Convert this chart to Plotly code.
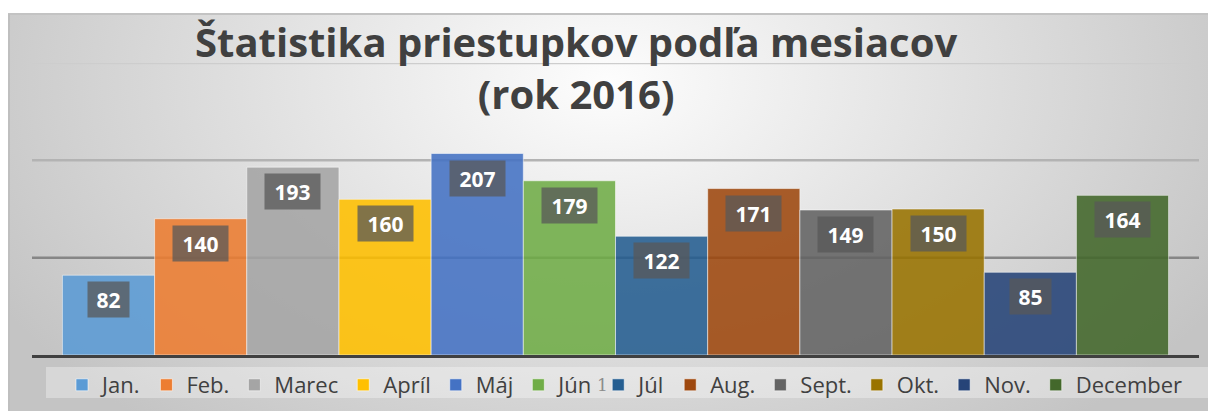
import base64
import plotly.graph_objects as go

# ---------------- data ----------------
months = ["Jan.", "Feb.", "Marec", "Apríl", "Máj", "Jún", "Júl",
          "Aug.", "Sept.", "Okt.", "Nov.", "December"]
values = [82, 140, 193, 160, 207, 179, 122, 171, 149, 150, 85, 164]
colors = ["#5B9BD5", "#ED7D31", "#A5A5A5", "#FFC000", "#4472C4", "#70AD47",
          "#255E91", "#9E480E", "#636363", "#997300", "#264478", "#43682B"]
grid_values = [100, 200, 300]
grid_colors = ["#868686", "#b3b3b3", "#cdcdcd"]
title_text = "Štatistika priestupkov podľa mesiacov<br>(rok 2016)"

# ---------------- geometry (pixels) ----------------
W, H = 1208, 411
L, R, T, B = 32, 9, 63, 56
PW, PH = W - L - R, H - T - B


def px(x):
    return (x - L) / PW


def py(y):
    return (H - B - y) / PH


FONT = "Open Sans"
TXT = "#404040"

fig = go.Figure()
for m, v, c in zip(months, values, colors):
    fig.add_trace(go.Bar(
        x=[m], y=[v], name=m, width=1.0,
        marker=dict(color=c, opacity=0.88,
                    line=dict(color="rgba(255,255,255,0.55)", width=1)),
        hoverinfo="x+y",
    ))

# data labels (dark boxes)
for m, v in zip(months, values):
    s = str(v)
    fig.add_annotation(
        x=m, y=v, xref="x", yref="y", text="<b>%s</b>" % s,
        showarrow=False, xanchor="center", yanchor="top", yshift=-6,
        width=55 if len(s) >= 3 else 41, height=35,
        bgcolor="rgba(88,88,88,0.75)", borderpad=0,
        font=dict(family=FONT, size=21, color="white"),
    )

# title
fig.add_annotation(x=px(576), y=py(12), xref="paper", yref="paper",
                   text="<b>%s</b>" % title_text, showarrow=False,
                   xanchor="center", yanchor="top", align="center",
                   font=dict(family=FONT, size=40, color=TXT))

# gridlines
for g, gc in zip(grid_values, grid_colors):
    fig.add_shape(type="line", xref="paper", yref="y", x0=0, x1=1, y0=g, y1=g,
                  line=dict(color=gc, width=2.5), layer="below")

# legend band
fig.add_shape(type="rect", xref="paper", yref="paper",
              x0=px(46), x1=px(1208), y0=py(398), y1=py(367),
              fillcolor="rgba(255,255,255,0.33)", line=dict(width=0), layer="below")

# chart-area border
fig.add_shape(type="line", xref="paper", yref="paper",
              x0=px(8), x1=px(1208), y0=py(14), y1=py(14),
              line=dict(color="#c3c3c3", width=2), layer="below")
fig.add_shape(type="line", xref="paper", yref="paper",
              x0=px(9), x1=px(9), y0=py(14), y1=py(411),
              line=dict(color="#bfbfbf", width=2), layer="below")

# stray "1" in legend row
fig.add_annotation(x=px(602), y=py(385), xref="paper", yref="paper",
                   text="1", showarrow=False, xanchor="center", yanchor="middle",
                   font=dict(family="DejaVu Serif", size=17, color="#8c8c8c"))

# background gradient image
svg = ('<svg xmlns="http://www.w3.org/2000/svg" width="1200" height="398" '
       'viewBox="0 0 1200 398" preserveAspectRatio="none">'
       '<defs><radialGradient id="g" gradientUnits="userSpaceOnUse" cx="600" cy="70" r="700" '
       'gradientTransform="translate(600 70) scale(1 0.643) translate(-600 -70)">'
       '<stop offset="0" stop-color="#fdfdfd"/><stop offset="1" stop-color="#c4c4c4"/>'
       '</radialGradient></defs><rect x="0" y="0" width="1200" height="398" fill="url(#g)"/></svg>')
src = "data:image/svg+xml;base64," + base64.b64encode(svg.encode()).decode()
fig.add_layout_image(source=src, xref="paper", yref="paper",
                     x=px(8), y=py(13), sizex=1200 / PW, sizey=398 / PH,
                     xanchor="left", yanchor="top", sizing="stretch", layer="below")

fig.update_layout(
    width=W, height=H,
    margin=dict(l=L, r=R, t=T, b=B, autoexpand=False),
    paper_bgcolor="white", plot_bgcolor="rgba(0,0,0,0)",
    barmode="overlay",
    showlegend=True,
    legend=dict(orientation="h", x=px(62), xanchor="left", y=py(385), yanchor="middle",
                font=dict(family=FONT, size=22, color=TXT),
                bgcolor="rgba(0,0,0,0)", traceorder="normal"),
    xaxis=dict(range=[-0.83, 11.83], showticklabels=False, ticks="",
               showgrid=False, zeroline=False, showline=True,
               linecolor="#404040", linewidth=3, fixedrange=True),
    yaxis=dict(range=[0, 300], showticklabels=False, ticks="",
               showgrid=False, zeroline=False, showline=False, fixedrange=True),
)

fig.write_html("out.html", config={"displayModeBar": False},
               post_script="document.body.style.margin='0px';document.body.style.overflow='hidden';")
